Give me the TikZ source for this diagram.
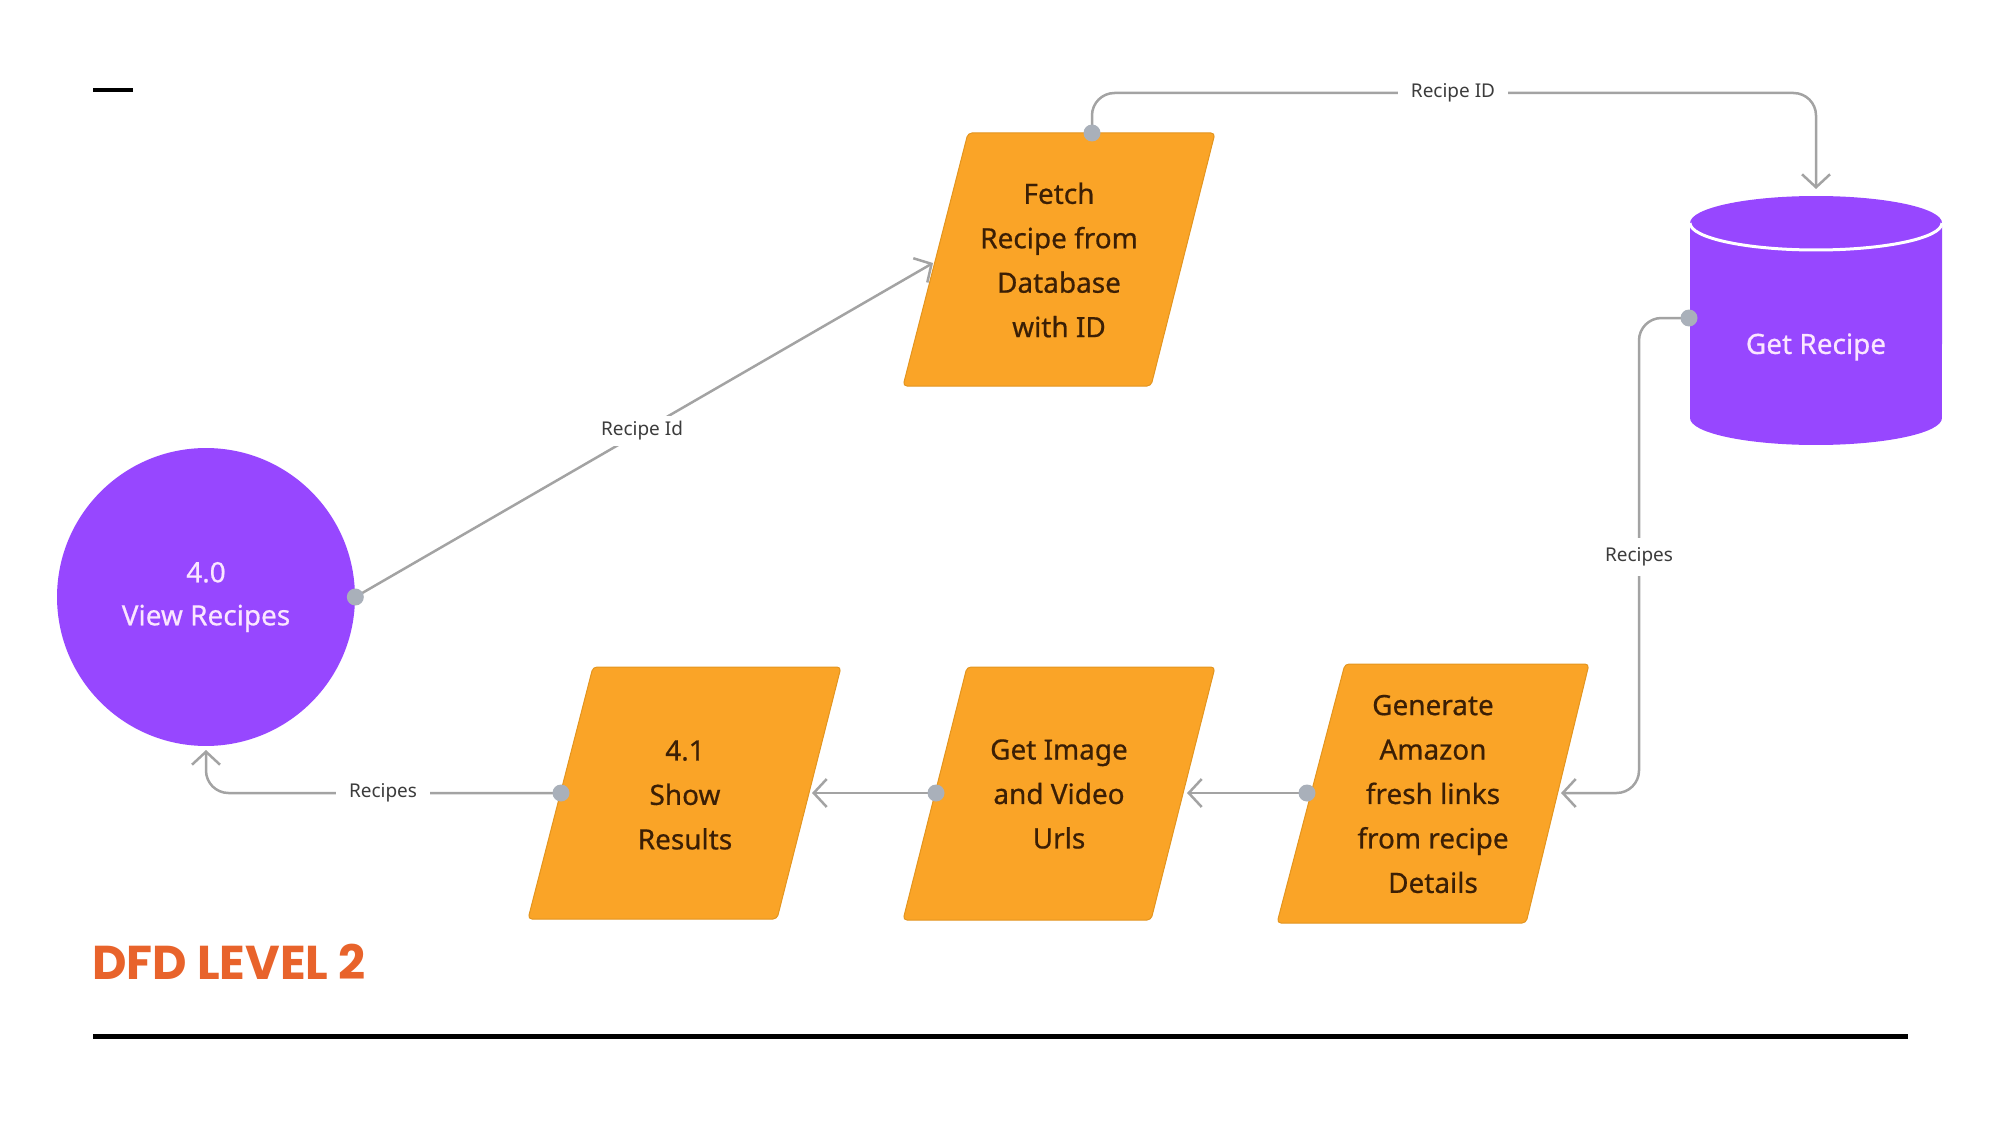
\documentclass[tikz,border=0pt]{standalone}
\usepackage{fontspec}
\setmainfont{Noto Sans}
\newfontfamily\procfont{Noto Sans}[FakeBold=0.6]
\newfontfamily\titlefont{Poppins}
\usetikzlibrary{arrows.meta}
\definecolor{procorange}{HTML}{FAA427}
\definecolor{procedge}{HTML}{E3951F}
\definecolor{storepurple}{HTML}{9747FF}
\definecolor{flowgray}{HTML}{A3A3A3}
\definecolor{dotgray}{HTML}{A9B0BA}
\definecolor{procbrown}{HTML}{3B1F05}
\definecolor{palepink}{HTML}{FBE6FF}
\definecolor{labelgray}{HTML}{3C3C3C}
\definecolor{titleorange}{HTML}{E8632B}
\begin{document}
\begin{tikzpicture}[x=0.02cm,y=-0.02cm,
  procshape/.style={fill=procorange, draw=procedge, line width=0.02cm, rounded corners=0.08cm},
  proctext/.style={text=procbrown, align=center, font=\procfont\fontsize{15.9}{25.3}\selectfont, inner sep=0pt},
  purpletext/.style={text=palepink, align=center, font=\procfont\fontsize{15.9}{24.5}\selectfont, inner sep=0pt},
  flow/.style={draw=flowgray, line width=0.05cm, rounded corners=0.45cm, -{Straight Barb[length=0.26cm,width=0.56cm]}},
  flowlabel/.style={fill=white, text=labelgray, font=\fontsize{10.8}{13}\selectfont, inner xsep=0.26cm, inner ysep=0.06cm},
  portdot/.style={circle, fill=dotgray, inner sep=0pt, minimum size=0.34cm},
  rule/.style={draw=black, line cap=butt},
]
\useasboundingbox (0,0) rectangle (2000,1125);

% header dash and bottom rule
\coordinate (dashL) at (93,90);
\coordinate (dashR) at (133,90);
\draw[rule, line width=0.08cm] (dashL) -- (dashR);
\coordinate (ruleL) at (93,1036);
\coordinate (ruleR) at (1908,1036);
\draw[rule, line width=0.1cm] (ruleL) -- (ruleR);

% title
\node[anchor=base west, inner sep=0pt, text=titleorange, font=\titlefont\bfseries\fontsize{27}{32}\selectfont] (title) at (92,979) {DFD LEVEL 2};

% process shapes (parallelograms)
\path[procshape] (968,133) -- (1215,133) -- (1151,386) -- (903,386) -- cycle;
\node[proctext] (fetch) at (1059,260) {Fetch\\Recipe from\\Database\\with ID};

\path[procshape] (1345,664) -- (1589,664) -- (1526,923) -- (1277,923) -- cycle;
\node[proctext] (generate) at (1433,794) {Generate\\Amazon\\fresh links\\from recipe\\Details};

\path[procshape] (967,667) -- (1215,667) -- (1151,920) -- (903,920) -- cycle;
\node[proctext] (getimage) at (1059,794) {Get Image\\and Video\\Urls};

\path[procshape] (593,667) -- (841,667) -- (777,919) -- (528,919) -- cycle;
\node[proctext] (show) at (685,795) {4.1\\Show\\Results};

% data store (cylinder)
\fill[storepurple] (1690,223) -- (1690,418)
  arc[start angle=180, end angle=360, x radius=2.52cm, y radius=0.54cm]
  -- (1942,223)
  arc[start angle=0, end angle=180, x radius=2.52cm, y radius=0.54cm] -- cycle;
\draw[white, line width=0.06cm] (1690,223)
  arc[start angle=180, end angle=360, x radius=2.52cm, y radius=0.54cm];
\node[purpletext] (getrecipe) at (1816,347) {Get Recipe};

% external entity / process circle
\node[circle, fill=storepurple, minimum size=5.96cm, purpletext] (view) at (206,597) {4.0\\View Recipes};

% connection points
\coordinate (fetchtop) at (1092,133);
\coordinate (fetchleft) at (933,263);
\coordinate (storetop) at (1816,189);
\coordinate (storeleft) at (1689,318);
\coordinate (genright) at (1561,793);
\coordinate (genleft) at (1307,793);
\coordinate (imgright) at (1187,793);
\coordinate (imgleft) at (936,793);
\coordinate (showright) at (812,793);
\coordinate (showleft) at (561,793);
\coordinate (viewbottom) at (206,750);
\coordinate (idbend) at (1453,93);
\coordinate (recbend) at (1639,557);

% flows
\draw[flow] (fetchtop) |- (idbend) -| (storetop);
\draw[flow] (storeleft) -| (recbend) |- (genright);
\draw[flow] (genleft) -- (imgright);
\draw[flow] (imgleft) -- (showright);
\draw[flow] (showleft) -| (viewbottom);
\draw[flow] (view.east) -- (fetchleft);

% dots
\node[portdot] (dfetch) at (fetchtop) {};
\node[portdot] (dstore) at (storeleft) {};
\node[portdot] (dgen) at (genleft) {};
\node[portdot] (dimg) at (imgleft) {};
\node[portdot] (dshow) at (showleft) {};
\node[portdot] (dview) at (view.east) {};

% labels
\node[flowlabel] (lid) at (idbend) {Recipe ID};
\node[flowlabel, inner ysep=0.2cm] (lrec) at (recbend) {Recipes};
\node[flowlabel] (lres) at (383,793) {Recipes};
\node[flowlabel, inner sep=0.12cm] (lrid) at (642,431) {Recipe Id};
\end{tikzpicture}
\end{document}
